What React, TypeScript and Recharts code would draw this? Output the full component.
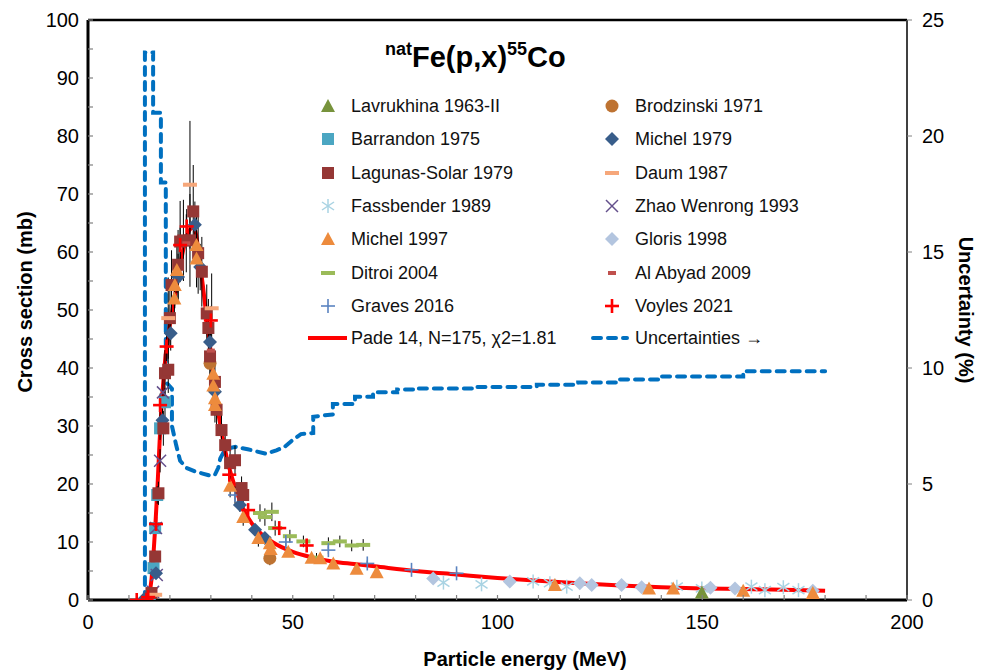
import React from 'react';
import { ComposedChart, Line, Scatter, XAxis, YAxis, ErrorBar, ReferenceLine } from 'recharts';

// tick values
const xTicks = [0, 10, 20, 30, 40, 50, 60, 70, 80, 90, 100, 110, 120, 130, 140, 150, 160, 170, 180, 190, 200];
const yTicks = [0, 5, 10, 15, 20, 25, 30, 35, 40, 45, 50, 55, 60, 65, 70, 75, 80, 85, 90, 95, 100];
const uTicks = [0, 5, 10, 15, 20, 25];

// Pade fit (mb)
const padeFit = [
  { x: 14.5, y: 0 }, { x: 15, y: 1.2 }, { x: 15.5, y: 3.5 }, { x: 16, y: 8 }, { x: 16.5, y: 13.5 },
  { x: 17, y: 20 }, { x: 17.5, y: 27.5 }, { x: 18, y: 34 }, { x: 18.5, y: 38.5 }, { x: 19, y: 42.5 },
  { x: 19.5, y: 45 }, { x: 20, y: 47.5 }, { x: 21, y: 51.5 }, { x: 22, y: 55.5 }, { x: 23, y: 59.5 },
  { x: 24, y: 62.5 }, { x: 25, y: 64 }, { x: 25.8, y: 64.3 }, { x: 26.5, y: 62.5 }, { x: 27, y: 60 },
  { x: 28, y: 54.5 }, { x: 29, y: 48.5 }, { x: 30, y: 42.5 }, { x: 31, y: 36.5 }, { x: 32, y: 31.5 },
  { x: 33, y: 27.5 }, { x: 34, y: 24.2 }, { x: 35, y: 21.5 }, { x: 36, y: 19.3 }, { x: 37, y: 17.3 },
  { x: 38, y: 15.6 }, { x: 40, y: 13.2 }, { x: 42, y: 11.6 }, { x: 45, y: 10 }, { x: 50, y: 8.3 },
  { x: 55, y: 7.3 }, { x: 60, y: 6.6 }, { x: 65, y: 6.2 }, { x: 70, y: 5.8 }, { x: 80, y: 5.0 },
  { x: 90, y: 4.4 }, { x: 100, y: 3.8 }, { x: 110, y: 3.3 }, { x: 120, y: 2.9 }, { x: 130, y: 2.5 },
  { x: 140, y: 2.2 }, { x: 150, y: 2.0 }, { x: 160, y: 1.9 }, { x: 170, y: 1.75 }, { x: 180, y: 1.6 },
];

// uncertainty (%), right axis
const uncertainty = [
  { x: 13.9, y: 0 }, { x: 13.9, y: 23.6 }, { x: 15.9, y: 23.6 }, { x: 15.9, y: 21.0 }, { x: 17.8, y: 21.0 },
  { x: 17.8, y: 18.0 }, { x: 19.0, y: 18.0 }, { x: 19.0, y: 9.4 }, { x: 20.5, y: 9.1 }, { x: 20.5, y: 7.5 },
  { x: 21.5, y: 6.7 }, { x: 22.5, y: 6.0 }, { x: 24, y: 5.7 }, { x: 26, y: 5.55 }, { x: 28, y: 5.45 },
  { x: 30, y: 5.35 }, { x: 31, y: 5.4 }, { x: 31.8, y: 5.7 }, { x: 32.3, y: 6.1 }, { x: 33.5, y: 6.5 },
  { x: 36, y: 6.6 }, { x: 39, y: 6.5 }, { x: 43.5, y: 6.3 }, { x: 46, y: 6.45 }, { x: 48, y: 6.6 },
  { x: 50, y: 6.9 }, { x: 52, y: 7.15 }, { x: 55, y: 7.2 }, { x: 55, y: 7.9 }, { x: 59.8, y: 8.0 },
  { x: 59.8, y: 8.45 }, { x: 65.2, y: 8.45 }, { x: 65.2, y: 8.76 }, { x: 69.6, y: 8.76 }, { x: 69.6, y: 8.95 },
  { x: 75.5, y: 8.95 }, { x: 75.5, y: 9.07 }, { x: 79.9, y: 9.07 }, { x: 79.9, y: 9.12 }, { x: 94.5, y: 9.12 },
  { x: 94.5, y: 9.18 }, { x: 109.6, y: 9.18 }, { x: 109.6, y: 9.28 }, { x: 119.7, y: 9.28 }, { x: 119.7, y: 9.38 },
  { x: 129.9, y: 9.38 }, { x: 129.9, y: 9.5 }, { x: 139.9, y: 9.5 }, { x: 139.9, y: 9.63 }, { x: 160, y: 9.63 },
  { x: 160, y: 9.86 }, { x: 180, y: 9.86 },
];

// measured data (x MeV, y mb, e = error mb)
const lavrukhina = [{ x: 149.9, y: 1.3, e: 0 }];
const brodzinski = [{ x: 29.8, y: 40.8, e: 2 }, { x: 44.4, y: 7.2, e: 1.2 }];
const barrandon = [
  { x: 15.1, y: 0.3, e: 0 }, { x: 16.0, y: 5.5, e: 0.5 }, { x: 16.4, y: 12.4, e: 1 }, { x: 16.9, y: 18.1, e: 1.5 },
  { x: 17.6, y: 29.6, e: 2 }, { x: 18.8, y: 34.1, e: 2.5 },
];
const michel1979 = [
  { x: 13.9, y: 0.3, e: 0 }, { x: 16.6, y: 4.6, e: 0.5 }, { x: 18.2, y: 31, e: 2 }, { x: 20.2, y: 46, e: 3 },
  { x: 22, y: 55.7, e: 4 }, { x: 26.1, y: 64.7, e: 4 }, { x: 27.4, y: 57.4, e: 4 }, { x: 29.8, y: 44.5, e: 3 },
  { x: 31, y: 35.9, e: 2.5 }, { x: 37.1, y: 16.4, e: 1.2 }, { x: 40.8, y: 12.1, e: 1 }, { x: 43.2, y: 10.7, e: 0.8 },
];
const lagunasSolar = [
  { x: 15.5, y: 1.2, e: 0.5 }, { x: 16.4, y: 7.5, e: 1 }, { x: 17.2, y: 18.4, e: 2 }, { x: 18.4, y: 29.6, e: 3 },
  { x: 18.8, y: 39.1, e: 4 }, { x: 19.6, y: 39.7, e: 4 }, { x: 20, y: 48.6, e: 5 }, { x: 20.4, y: 54.3, e: 6 },
  { x: 22, y: 57.8, e: 6 }, { x: 22.5, y: 61.8, e: 7 }, { x: 23.3, y: 62, e: 7 }, { x: 24.9, y: 62, e: 8 },
  { x: 25.7, y: 67, e: 8 }, { x: 26.9, y: 59.8, e: 7 }, { x: 27.8, y: 56.6, e: 6 }, { x: 29, y: 49.4, e: 5 },
  { x: 29.4, y: 46.9, e: 5 }, { x: 29.8, y: 42, e: 4 }, { x: 31, y: 37.6, e: 4 }, { x: 31.4, y: 32.8, e: 3 },
  { x: 32.6, y: 29.3, e: 3 }, { x: 33.5, y: 26.7, e: 3 }, { x: 34.7, y: 23.6, e: 2.5 }, { x: 35.9, y: 24.1, e: 2.5 },
  { x: 37.5, y: 19.3, e: 2 }, { x: 37.9, y: 18.1, e: 2 },
];
const daum = [
  { x: 16.4, y: 0.9, e: 0.5 }, { x: 19.6, y: 48.6, e: 7 }, { x: 24.9, y: 71.6, e: 11 }, { x: 30.2, y: 50.3, e: 6 },
];
const fassbender = [
  { x: 86.8, y: 3.0, e: 0 }, { x: 96.1, y: 2.7, e: 0 }, { x: 108.7, y: 3.2, e: 0 }, { x: 112.8, y: 2.9, e: 0 },
  { x: 116.9, y: 2.3, e: 0 }, { x: 143.8, y: 2.3, e: 0 }, { x: 149.9, y: 2.0, e: 0 }, { x: 162, y: 2.3, e: 0 },
  { x: 165.3, y: 1.7, e: 0 }, { x: 169.8, y: 2.2, e: 0 }, { x: 173.5, y: 1.7, e: 0 },
];
const zhaoWenrong = [
  { x: 15.9, y: 1.4, e: 0 }, { x: 16.8, y: 4.3, e: 0.5 }, { x: 16.6, y: 12.4, e: 1 }, { x: 17.6, y: 24, e: 2 },
  { x: 18.3, y: 35.8, e: 2.5 },
];
const michel1997 = [
  { x: 21.1, y: 52, e: 4 }, { x: 21.2, y: 54.3, e: 4 }, { x: 21.7, y: 56.9, e: 4 }, { x: 26.5, y: 61.2, e: 5 },
  { x: 26.5, y: 58.9, e: 5 }, { x: 30.6, y: 39, e: 3 }, { x: 30.6, y: 37, e: 3 }, { x: 31, y: 34.8, e: 3 },
  { x: 31, y: 33.6, e: 3 }, { x: 34.7, y: 19.7, e: 2 }, { x: 37.9, y: 14.3, e: 1.5 }, { x: 41.6, y: 10.7, e: 1.5 },
  { x: 44.4, y: 9.8, e: 1.2 }, { x: 44.6, y: 8.8, e: 1 }, { x: 48.9, y: 8.3, e: 0.8 }, { x: 54.6, y: 7.3, e: 0.7 },
  { x: 56.7, y: 7.2, e: 0.7 }, { x: 59.9, y: 6.3, e: 0.6 }, { x: 65.6, y: 5.4, e: 0.5 }, { x: 70.5, y: 4.8, e: 0.5 },
  { x: 114, y: 2.6, e: 0.3 }, { x: 137, y: 2.0, e: 0.2 }, { x: 142.9, y: 2.0, e: 0.2 }, { x: 160, y: 1.6, e: 0.2 },
  { x: 177, y: 1.2, e: 0.2 },
];
const gloris = [
  { x: 84.3, y: 3.7, e: 0 }, { x: 103, y: 3.2, e: 0 }, { x: 120.1, y: 2.9, e: 0 }, { x: 123, y: 2.6, e: 0 },
  { x: 130.3, y: 2.6, e: 0 }, { x: 135.2, y: 2.2, e: 0 }, { x: 152, y: 2.1, e: 0 }, { x: 158, y: 2.0, e: 0 },
  { x: 177, y: 1.6, e: 0 },
];
const ditroi = [
  { x: 42, y: 15, e: 1.5 }, { x: 43.2, y: 14.3, e: 1.5 }, { x: 44.9, y: 15.2, e: 1.6 }, { x: 45.7, y: 12.4, e: 1.3 },
  { x: 49.3, y: 11, e: 1.1 }, { x: 52.6, y: 10.1, e: 1 }, { x: 55.8, y: 7.3, e: 0.8 }, { x: 58.7, y: 9.8, e: 1 },
  { x: 61.5, y: 10.1, e: 1 }, { x: 64.4, y: 9.4, e: 1 }, { x: 67.2, y: 9.5, e: 1 },
];
const alAbyad = [{ x: 24, y: 61.5, e: 5 }, { x: 30, y: 43, e: 3 }];
const graves = [
  { x: 35.9, y: 18.1, e: 1.5 }, { x: 48.3, y: 10, e: 0.8 }, { x: 58.7, y: 8.6, e: 0.7 }, { x: 68.2, y: 6.3, e: 0.5 },
  { x: 79, y: 5.2, e: 0.4 }, { x: 90, y: 4.6, e: 0.4 },
];
const voyles = [
  { x: 11.9, y: 0, e: 0 }, { x: 14.3, y: 0, e: 0 }, { x: 14.7, y: 0.5, e: 0 }, { x: 16.6, y: 13.1, e: 1 },
  { x: 17.6, y: 33.6, e: 2 }, { x: 19.2, y: 43.7, e: 2.5 }, { x: 22.5, y: 61.2, e: 3 }, { x: 24.1, y: 64.4, e: 3 },
  { x: 30, y: 48.2, e: 2.5 }, { x: 34.5, y: 21.6, e: 1.2 }, { x: 39.1, y: 15.5, e: 1 }, { x: 46.7, y: 12.4, e: 0.8 },
  { x: 53.4, y: 9.4, e: 0.6 },
];

const FONT = '"Liberation Sans", Arial, Helvetica, sans-serif';

type Kind = 'triangle' | 'square' | 'circle' | 'diamond' | 'dash' | 'smalldash' | 'asterisk' | 'x' | 'plus' | 'boldplus';

const Marker = ({ kind, color, cx, cy }: { kind: Kind; color: string; cx: number; cy: number }) => {
  if (cx == null || cy == null) return null;
  switch (kind) {
    case 'triangle':
      return <polygon points={`${cx},${cy - 7} ${cx - 7},${cy + 6} ${cx + 7},${cy + 6}`} fill={color} />;
    case 'square':
      return <rect x={cx - 6} y={cy - 6} width={12} height={12} fill={color} />;
    case 'circle':
      return <circle cx={cx} cy={cy} r={6.5} fill={color} />;
    case 'diamond':
      return <polygon points={`${cx},${cy - 7} ${cx + 7},${cy} ${cx},${cy + 7} ${cx - 7},${cy}`} fill={color} />;
    case 'dash':
      return <rect x={cx - 7} y={cy - 2} width={14} height={4} fill={color} />;
    case 'smalldash':
      return <rect x={cx - 4} y={cy - 2} width={8} height={4} fill={color} />;
    case 'asterisk':
      return (
        <g stroke={color} strokeWidth={1.5}>
          <line x1={cx} y1={cy - 7} x2={cx} y2={cy + 7} />
          <line x1={cx - 6} y1={cy - 4} x2={cx + 6} y2={cy + 4} />
          <line x1={cx - 6} y1={cy + 4} x2={cx + 6} y2={cy - 4} />
        </g>
      );
    case 'x':
      return (
        <g stroke={color} strokeWidth={1.5}>
          <line x1={cx - 6} y1={cy - 6} x2={cx + 6} y2={cy + 6} />
          <line x1={cx - 6} y1={cy + 6} x2={cx + 6} y2={cy - 6} />
        </g>
      );
    case 'plus':
      return (
        <g stroke={color} strokeWidth={1.6}>
          <line x1={cx - 7} y1={cy} x2={cx + 7} y2={cy} />
          <line x1={cx} y1={cy - 7} x2={cx} y2={cy + 7} />
        </g>
      );
    case 'boldplus':
      return (
        <g stroke={color} strokeWidth={2.6}>
          <line x1={cx - 7} y1={cy} x2={cx + 7} y2={cy} />
          <line x1={cx} y1={cy - 7} x2={cx} y2={cy + 7} />
        </g>
      );
  }
  return null;
};

const series: { name: string; data: { x: number; y: number; e: number }[]; kind: Kind; color: string }[] = [
  { name: 'Lavrukhina 1963-II', data: lavrukhina, kind: 'triangle', color: '#77933C' },
  { name: 'Brodzinski 1971', data: brodzinski, kind: 'circle', color: '#BE7332' },
  { name: 'Barrandon 1975', data: barrandon, kind: 'square', color: '#4BA6C2' },
  { name: 'Michel 1979', data: michel1979, kind: 'diamond', color: '#385D8A' },
  { name: 'Lagunas-Solar 1979', data: lagunasSolar, kind: 'square', color: '#953735' },
  { name: 'Daum 1987', data: daum, kind: 'dash', color: '#F6A77A' },
  { name: 'Fassbender 1989', data: fassbender, kind: 'asterisk', color: '#A9D3E3' },
  { name: 'Zhao Wenrong 1993', data: zhaoWenrong, kind: 'x', color: '#64508C' },
  { name: 'Michel 1997', data: michel1997, kind: 'triangle', color: '#ED8B3D' },
  { name: 'Gloris 1998', data: gloris, kind: 'diamond', color: '#B3C5DF' },
  { name: 'Ditroi 2004', data: ditroi, kind: 'dash', color: '#9BBB59' },
  { name: 'Al Abyad 2009', data: alAbyad, kind: 'smalldash', color: '#C0504D' },
  { name: 'Graves 2016', data: graves, kind: 'plus', color: '#5A83C0' },
  { name: 'Voyles 2021', data: voyles, kind: 'boldplus', color: '#FF0000' },
];

// drawing order (back to front)
const drawOrder = [
  'Fassbender 1989', 'Gloris 1998', 'Lavrukhina 1963-II', 'Ditroi 2004', 'Graves 2016', 'Barrandon 1975',
  'Zhao Wenrong 1993', 'Michel 1979', 'Brodzinski 1971', 'Lagunas-Solar 1979', 'Michel 1997', 'Daum 1987',
  'Al Abyad 2009', 'Voyles 2021',
];

const XTick = (props: any) => {
  const { x, y, payload } = props;
  const v = payload.value;
  return (
    <g>
      <line x1={x} y1={y} x2={x} y2={y - 5} stroke="#808080" strokeWidth={1.2} />
      {v % 50 === 0 && (
        <text x={x} y={y + 29} textAnchor="middle" fontSize={20} fill="#000" fontFamily={FONT}>
          {v}
        </text>
      )}
    </g>
  );
};

const YTick = (props: any) => {
  const { x, y, payload } = props;
  const v = payload.value;
  return (
    <g>
      <line x1={x} y1={y} x2={x + 5} y2={y} stroke="#808080" strokeWidth={1.2} />
      {v % 10 === 0 && (
        <text x={x - 9} y={y + 7} textAnchor="end" fontSize={20} fill="#000" fontFamily={FONT}>
          {v}
        </text>
      )}
    </g>
  );
};

const legendLeft = ['Lavrukhina 1963-II', 'Barrandon 1975', 'Lagunas-Solar 1979', 'Fassbender 1989', 'Michel 1997', 'Ditroi 2004', 'Graves 2016'];
const legendRight = ['Brodzinski 1971', 'Michel 1979', 'Daum 1987', 'Zhao Wenrong 1993', 'Gloris 1998', 'Al Abyad 2009', 'Voyles 2021'];
const rowY = [106, 139.3, 172.7, 206, 239.3, 272.7, 306, 338];

const LegendBox = () => {
  const item = (name: string, mx: number, tx: number, cy: number) => {
    const s = series.find((d) => d.name === name)!;
    return (
      <React.Fragment key={name}>
        <svg style={{ position: 'absolute', left: mx - 10, top: cy - 10 }} width={20} height={20}>
          <Marker kind={s.kind} color={s.color} cx={10} cy={10} />
        </svg>
        <div style={{ position: 'absolute', left: tx, top: cy - 11, lineHeight: '22px', fontSize: 18, whiteSpace: 'nowrap', color: '#111' }}>
          {name}
        </div>
      </React.Fragment>
    );
  };
  return (
    <>
      {legendLeft.map((n, i) => item(n, 328, 351, rowY[i]))}
      {legendRight.map((n, i) => item(n, 612, 635, rowY[i]))}
      <svg style={{ position: 'absolute', left: 300, top: rowY[7] - 5 }} width={50} height={10}>
        <line x1={8} y1={5} x2={47} y2={5} stroke="#FF0000" strokeWidth={4} />
      </svg>
      <div style={{ position: 'absolute', left: 351, top: rowY[7] - 11, lineHeight: '22px', fontSize: 18, whiteSpace: 'nowrap', color: '#111' }}>
        Pade 14, N=175, χ2=1.81
      </div>
      <svg style={{ position: 'absolute', left: 588, top: rowY[7] - 5 }} width={44} height={10}>
        <line x1={5} y1={5} x2={39} y2={5} stroke="#0070C0" strokeWidth={4} strokeDasharray="8 7" strokeLinecap="round" />
      </svg>
      <div style={{ position: 'absolute', left: 635, top: rowY[7] - 11, lineHeight: '22px', fontSize: 18, whiteSpace: 'nowrap', color: '#111' }}>
        Uncertainties →
      </div>
    </>
  );
};

export default function App() {
  return (
    <div style={{ position: 'relative', width: 989, height: 672, fontFamily: FONT, background: '#fff' }}>
      <style>{'body{margin:0}'}</style>
      <ComposedChart width={989} height={672} margin={{ top: 20, right: 0, bottom: 0, left: 0 }}>
        <XAxis
          dataKey="x"
          type="number"
          domain={[0, 200]}
          ticks={xTicks}
          interval={0}
          allowDataOverflow
          height={72}
          tickSize={0}
          tickMargin={0}
          tick={<XTick />}
          tickLine={false}
          axisLine={{ stroke: '#000', strokeWidth: 3 }}
        />
        <YAxis
          yAxisId="left"
          dataKey="y"
          type="number"
          domain={[0, 100]}
          ticks={yTicks}
          interval={0}
          allowDataOverflow
          width={88}
          tickSize={0}
          tickMargin={0}
          tick={<YTick />}
          tickLine={false}
          axisLine={{ stroke: '#000', strokeWidth: 3 }}
        />
        <YAxis
          yAxisId="right"
          orientation="right"
          dataKey="y"
          type="number"
          domain={[0, 25]}
          ticks={uTicks}
          interval={0}
          allowDataOverflow
          width={82}
          tickSize={5}
          tickMargin={10}
          tick={{ fontSize: 20, fill: '#000', fontFamily: FONT }}
          tickLine={{ stroke: '#808080' }}
          axisLine={{ stroke: '#404040', strokeWidth: 2 }}
        />
        <ReferenceLine yAxisId="left" y={100} stroke="#000" strokeWidth={2.5} />
        <Line
          yAxisId="right"
          data={uncertainty}
          dataKey="y"
          type="linear"
          stroke="#0070C0"
          strokeWidth={4}
          strokeDasharray="8 7"
          strokeLinecap="round"
          dot={false}
          activeDot={false}
          isAnimationActive={false}
        />
        <Line
          yAxisId="left"
          data={padeFit}
          dataKey="y"
          type="monotone"
          stroke="#FF0000"
          strokeWidth={4}
          dot={false}
          activeDot={false}
          isAnimationActive={false}
        />
        {drawOrder.map((name) => {
          const s = series.find((d) => d.name === name)!;
          return (
            <Scatter
              key={name}
              name={name}
              yAxisId="left"
              data={s.data}
              dataKey="y"
              isAnimationActive={false}
              shape={(p: any) => <Marker kind={s.kind} color={s.color} cx={p.cx} cy={p.cy} />}
            >
              <ErrorBar dataKey="e" direction="y" width={0} stroke="#000" strokeWidth={1} isAnimationActive={false} />
            </Scatter>
          );
        })}
      </ComposedChart>

      <div style={{ position: 'absolute', left: 385, top: 43, fontSize: 29, fontWeight: 'bold', lineHeight: 1, whiteSpace: 'nowrap', color: '#000' }}>
        <span style={{ fontSize: 18, position: 'relative', top: -12 }}>nat</span>Fe(p,x)
        <span style={{ fontSize: 18, position: 'relative', top: -12 }}>55</span>Co
      </div>

      <LegendBox />

      <div style={{ position: 'absolute', left: 25, top: 302, transform: 'translate(-50%, -50%) rotate(-90deg)', fontSize: 20, fontWeight: 'bold', whiteSpace: 'nowrap' }}>
        Cross section (mb)
      </div>
      <div style={{ position: 'absolute', left: 965, top: 310, transform: 'translate(-50%, -50%) rotate(90deg)', fontSize: 20, fontWeight: 'bold', whiteSpace: 'nowrap' }}>
        Uncertainty (%)
      </div>
      <div style={{ position: 'absolute', left: 525, top: 659, transform: 'translate(-50%, -50%)', fontSize: 20, fontWeight: 'bold', whiteSpace: 'nowrap' }}>
        Particle energy (MeV)
      </div>
    </div>
  );
}
